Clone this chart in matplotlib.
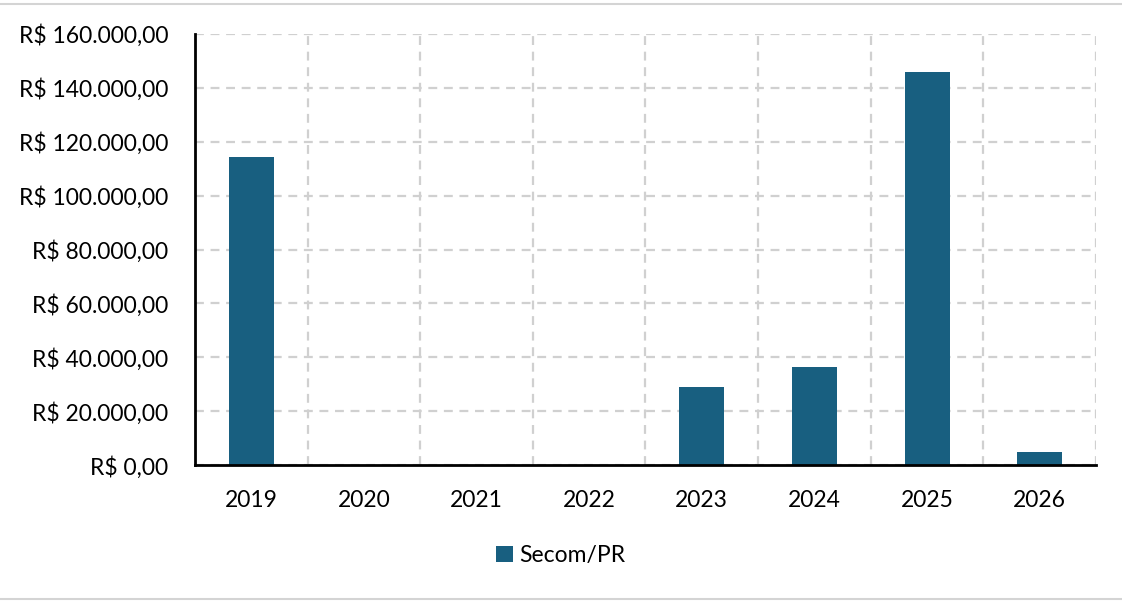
import matplotlib
matplotlib.use("Agg")
from matplotlib import pyplot as plt
from matplotlib.ticker import FuncFormatter, MultipleLocator
from matplotlib.lines import Line2D

anos = ["2019", "2020", "2021", "2022", "2023", "2024", "2025", "2026"]
valores = [114300, 0, 0, 0, 29000, 36400, 145900, 4800]
serie = "Secom/PR"

plt.rcParams['font.family'] = ['Lato', 'DejaVu Sans']

fig = plt.figure(figsize=(11.22, 6.04), dpi=100)
ax = fig.add_axes([0.1738, 0.2301, 0.8030, 0.7136])

x = list(range(len(anos)))
ax.bar(x, valores, width=0.4, color="#185f80", label=serie, zorder=3)

ax.set_xlim(-0.5, len(anos) - 0.5)
ax.set_ylim(0, 160000)
ax.yaxis.set_major_locator(MultipleLocator(20000))


def reais(v, pos):
    s = "{:,.2f}".format(v).replace(",", "X").replace(".", ",").replace("X", ".")
    return "R$ " + s


ax.yaxis.set_major_formatter(FuncFormatter(reais))
ax.set_xticks(x)
ax.set_xticklabels(anos)
ax.set_xticks([i + 0.5 for i in x], minor=True)

ax.grid(axis="y", which="major", color="#d0d0d0", linestyle=(0, (4, 3)), linewidth=1.6, zorder=0)
ax.grid(axis="x", which="minor", color="#d0d0d0", linestyle=(0, (4, 3)), linewidth=1.6, zorder=0)
ax.tick_params(axis="both", which="both", length=0)
ax.tick_params(axis="y", labelsize=16.5, pad=19)
ax.tick_params(axis="x", labelsize=16.5, pad=18)

for s in ["top", "right"]:
    ax.spines[s].set_visible(False)
ax.spines["left"].set_linewidth(2)
ax.spines["bottom"].set_linewidth(2)
ax.spines["left"].set_zorder(4)
ax.spines["bottom"].set_zorder(4)

ax.legend(loc="center", bbox_to_anchor=(0.5, 0.081), bbox_transform=fig.transFigure,
          frameon=False, fontsize=16.5, handlelength=0.7, handleheight=0.7, handletextpad=0.3)

# bordas da planilha
fig.add_artist(Line2D([0, 1], [0.993, 0.993], color="#d4d4d4", linewidth=1.5))
fig.add_artist(Line2D([0, 1], [0.008, 0.008], color="#d4d4d4", linewidth=1.5))

plt.savefig("out.png", dpi=100)
